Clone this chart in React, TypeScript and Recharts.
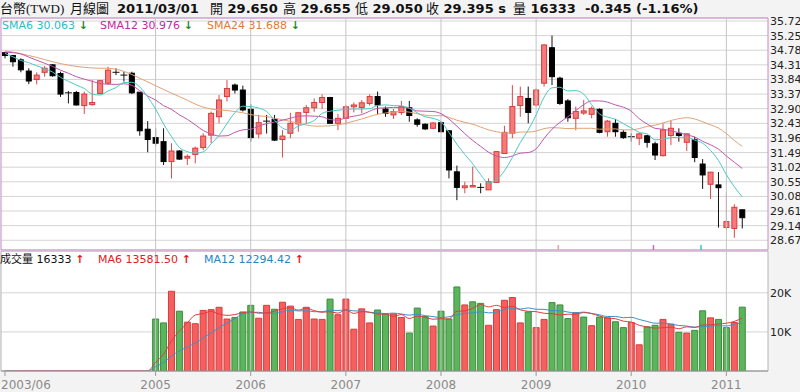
import { ComposedChart, Bar, Line, XAxis, YAxis, CartesianGrid, ReferenceLine, ReferenceArea, Cell } from 'recharts';

// month index 0 = 2003/06 ... 93 = 2011/03
const yearTicks = [0, 19, 31, 43, 55, 67, 79, 91];
const yearLabels = ['2003/06', '2005', '2006', '2007', '2008', '2009', '2010', '2011'];
const priceTicks = [28.67, 29.14, 29.61, 30.08, 30.55, 31.02, 31.49, 31.96, 32.43, 32.9, 33.37, 33.84, 34.31, 34.78, 35.25, 35.72];
const volumeTicks = [10000, 20000];

const open = [
  34.7, 34.61, 34.47, 34.11, 33.84, 34.07, 34.31, 34.03, 33.41, 33.42,
  33.0, 33.03, 33.39, 33.72, 34.07, 33.98, 34.04, 33.43, 32.24, 31.97,
  31.84, 31.2, 31.54, 31.31, 31.43, 31.65, 32.05, 32.64, 33.29, 33.66,
  33.5, 32.88, 32.09, 32.5, 32.56, 31.91, 32.11, 32.41, 32.78, 32.93,
  33.1, 33.26, 32.43, 32.59, 32.96, 32.94, 33.07, 33.29, 32.89, 32.7,
  32.78, 32.93, 32.54, 32.4, 32.27, 32.45, 32.19, 30.87, 30.36, 30.4,
  30.37, 30.29, 30.53, 31.46, 32.11, 33.0, 33.23, 33.02, 33.72, 34.86,
  33.88, 33.15, 32.59, 32.76, 32.72, 32.88, 32.16, 32.43, 32.14, 32.0,
  31.95, 32.03, 31.77, 31.39, 32.04, 32.11, 31.82, 31.9, 31.12, 30.47,
  30.45, 29.08, 29.05, 29.65,
];
const high = [
  34.73, 34.63, 34.52, 34.2, 34.07, 34.27, 34.33, 34.09, 33.47, 33.47,
  33.45, 33.82, 33.82, 34.25, 34.2, 34.09, 34.09, 33.43, 32.5, 32.27,
  32.27, 31.79, 31.57, 31.43, 31.68, 32.11, 32.81, 33.34, 33.82, 33.71,
  33.64, 33.04, 32.7, 32.7, 32.7, 32.21, 32.77, 32.78, 33.02, 33.23,
  33.36, 33.28, 32.73, 33.02, 33.1, 33.18, 33.36, 33.45, 32.97, 32.89,
  33.15, 33.15, 32.59, 32.43, 32.47, 32.48, 32.21, 31.07, 30.55, 31.04,
  30.5, 30.66, 31.54, 32.35, 33.66, 33.61, 33.61, 33.55, 34.97, 35.25,
  33.93, 33.21, 32.97, 33.18, 32.97, 32.91, 32.54, 32.57, 32.21, 32.11,
  32.11, 32.06, 31.84, 32.43, 32.51, 32.27, 32.11, 32.0, 31.28, 30.86,
  30.86, 30.21, 29.83, 29.655,
];
const low = [
  34.52, 34.25, 34.07, 33.69, 33.68, 33.93, 33.93, 33.28, 33.07, 33.0,
  32.73, 33.0, 33.37, 33.66, 33.98, 33.77, 33.37, 32.03, 31.5, 31.71,
  31.09, 30.66, 31.25, 31.09, 31.14, 31.57, 31.79, 32.43, 33.13, 33.39,
  32.81, 31.84, 31.95, 32.1, 31.86, 31.33, 31.95, 32.16, 32.43, 32.8,
  32.89, 32.43, 32.21, 32.38, 32.78, 32.75, 33.0, 32.72, 32.64, 32.57,
  32.7, 32.48, 32.32, 32.22, 32.24, 32.14, 30.66, 29.96, 30.18, 30.38,
  30.18, 30.29, 30.53, 31.46, 31.95, 32.64, 32.43, 32.97, 33.61, 33.66,
  33.02, 32.48, 32.21, 32.7, 32.59, 32.11, 32.0, 32.0, 31.93, 31.84,
  31.73, 31.65, 31.25, 31.36, 31.73, 31.84, 31.54, 31.18, 30.32, 30.0,
  29.08, 29.0, 28.75, 29.05,
];
const close = [
  34.61, 34.41, 34.15, 33.79, 33.98, 34.2, 33.96, 33.37, 33.4, 33.02,
  33.37, 33.1, 33.8, 34.14, 34.07, 33.98, 33.41, 32.19, 31.91, 31.79,
  31.2, 31.54, 31.28, 31.37, 31.63, 32.02, 32.75, 33.18, 33.55, 33.5,
  32.86, 31.97, 32.45, 32.5, 31.89, 32.02, 32.43, 32.77, 32.93, 33.1,
  33.26, 32.43, 32.59, 32.96, 33.02, 33.09, 33.29, 33.02, 32.75, 32.81,
  32.97, 32.68, 32.4, 32.25, 32.44, 32.16, 30.93, 30.37, 30.42, 30.43,
  30.36, 30.55, 31.52, 32.14, 32.97, 33.29, 32.78, 33.5, 34.95, 33.93,
  33.07, 32.61, 32.81, 32.83, 32.91, 32.14, 32.5, 32.16, 31.97, 31.98,
  32.09, 31.82, 31.41, 32.22, 32.27, 32.04, 32.09, 31.33, 30.77, 30.86,
  30.36, 29.27, 29.73, 29.395,
];

const sma6 = [
  34.68, 34.57, 34.45, 34.38, 34.28, 34.19, 34.08, 33.91, 33.78, 33.66,
  33.55, 33.37, 33.34, 33.47, 33.58, 33.74, 33.75, 33.6, 33.28, 32.89,
  32.41, 32.01, 31.65, 31.52, 31.47, 31.51, 31.77, 32.04, 32.42, 32.77,
  32.98, 32.97, 32.92, 32.81, 32.53, 32.28, 32.21, 32.34, 32.42, 32.52,
  32.75, 32.82, 32.85, 32.88, 32.89, 32.89, 32.9, 33.0, 33.02, 33.0,
  32.99, 32.92, 32.77, 32.64, 32.59, 32.48, 32.14, 31.76, 31.43, 31.13,
  30.78, 30.51, 30.61, 30.9, 31.33, 31.81, 32.21, 32.7, 33.27, 33.57,
  33.59, 33.47, 33.48, 33.37, 33.03, 32.73, 32.63, 32.56, 32.42, 32.28,
  32.14, 32.09, 31.9, 31.92, 31.97, 31.98, 31.98, 31.89, 31.79, 31.56,
  31.24, 30.78, 30.39, 30.063,
];
const sma12 = [
  34.72, 34.7, 34.66, 34.56, 34.46, 34.36, 34.26, 34.14, 34.04, 33.93,
  33.85, 33.78, 33.71, 33.69, 33.68, 33.7, 33.65, 33.48, 33.31, 33.18,
  33.0, 32.88, 32.7, 32.56, 32.38, 32.2, 32.09, 32.02, 32.03, 32.14,
  32.22, 32.24, 32.34, 32.42, 32.47, 32.53, 32.59, 32.66, 32.67, 32.66,
  32.64, 32.55, 32.53, 32.61, 32.66, 32.71, 32.82, 32.91, 32.93, 32.94,
  32.94, 32.91, 32.83, 32.82, 32.81, 32.74, 32.57, 32.34, 32.1, 31.88,
  31.69, 31.5, 31.38, 31.33, 31.38, 31.47, 31.49, 31.61, 31.94, 32.24,
  32.46, 32.64, 32.84, 33.03, 33.15, 33.15, 33.11, 33.02, 32.95, 32.82,
  32.58, 32.41, 32.27, 32.24, 32.19, 32.13, 32.06, 31.99, 31.85, 31.74,
  31.6, 31.38, 31.18, 30.976,
];
const sma24 = [
  34.76, 34.72, 34.67, 34.61, 34.55, 34.48, 34.41, 34.35, 34.3, 34.26,
  34.23, 34.21, 34.2, 34.2, 34.17, 34.1, 34.0, 33.88, 33.76, 33.64,
  33.52, 33.4, 33.29, 33.17, 33.05, 32.95, 32.89, 32.86, 32.84, 32.81,
  32.77, 32.71, 32.67, 32.65, 32.59, 32.55, 32.49, 32.43, 32.38, 32.34,
  32.34, 32.35, 32.38, 32.43, 32.5, 32.57, 32.65, 32.72, 32.76, 32.8,
  32.81, 32.79, 32.74, 32.69, 32.67, 32.68, 32.62, 32.53, 32.46, 32.4,
  32.31, 32.22, 32.16, 32.12, 32.11, 32.15, 32.15, 32.18, 32.26, 32.29,
  32.28, 32.26, 32.27, 32.27, 32.27, 32.24, 32.25, 32.25, 32.22, 32.22,
  32.26, 32.33, 32.37, 32.44, 32.52, 32.58, 32.61, 32.57, 32.48, 32.38,
  32.28, 32.1, 31.88, 31.688,
];

const volume = [
  null, null, null, null, null, null, null, null, null, null,
  null, null, null, null, null, null, null, null, null, 13300,
  12300, 20400, 15300, 12500, 12100, 15500, 15700, 16300, 13300, 13700,
  15100, 16800, 13500, 16800, 15800, 17600, 16600, 13200, 16300, 13300,
  13200, 18400, 14400, 18400, 10700, 15900, 12300, 15600, 14600, 14600,
  13700, 9700, 16100, 13900, 11500, 15300, 13300, 21500, 16900, 17700,
  17300, 11700, 15700, 18100, 18800, 12300, 15100, 11100, 13200, 17500,
  16900, 13400, 14900, 13800, 11600, 13800, 13600, 12600, 11100, 12400,
  6700, 11300, 11700, 13200, 12000, 9900, 9700, 10400, 15400, 13600,
  13200, 11100, 12400, 16333,
];
// 1 = closed higher (red bar), 0 = closed lower (green bar)
const volumeUp = [
  0, 0, 0, 0, 0, 0, 0, 0, 0, 0,
  0, 0, 0, 0, 0, 0, 0, 0, 0, 0,
  0, 1, 0, 1, 1, 1, 1, 1, 1, 0,
  0, 0, 1, 1, 0, 1, 1, 1, 1, 1,
  1, 0, 1, 1, 1, 1, 1, 0, 0, 1,
  1, 0, 0, 0, 1, 0, 0, 0, 1, 0,
  0, 1, 1, 1, 1, 1, 0, 1, 1, 0,
  0, 0, 1, 0, 1, 0, 1, 0, 0, 1,
  1, 0, 0, 1, 1, 0, 1, 0, 0, 1,
  0, 0, 1, 0,
];
const volumeMa6 = [
  0, 0, 0, 0, 0, 0, 0, 0, 0, 0,
  0, 0, 0, 0, 0, 0, 0, 0, 0, 2220,
  4270, 7670, 10220, 12300, 14320, 14680, 15250, 14570, 14230, 14430,
  14930, 15150, 14780, 14870, 15280, 15930, 16180, 15580, 16050, 15470,
  15030, 15170, 14800, 15670, 14730, 15170, 15020, 14550, 14580, 13950,
  14450, 13420, 14050, 13770, 13250, 13370, 13300, 15270, 15400, 16030,
  17000, 16400, 16800, 16230, 16550, 15650, 15280, 15180, 14770, 14670,
  14350, 14530, 14500, 14950, 14680, 14070, 13520, 13380, 12750, 12520,
  11700, 11280, 10970, 11070, 11220, 10800, 11300, 11150, 11770, 11830,
  12030, 12230, 12680, 13581.5,
];
const volumeMa12 = [
  0, 0, 0, 0, 0, 0, 0, 0, 0, 0,
  0, 0, 0, 0, 0, 0, 0, 0, 0, 1110,
  2130, 3830, 5110, 6150, 7160, 8450, 9760, 11120, 12230, 13370,
  14630, 14920, 15020, 14720, 14760, 15180, 15560, 15370, 15420, 15170,
  15160, 15550, 15490, 15630, 15390, 15320, 15030, 14860, 14690, 14810,
  14590, 14290, 14530, 14160, 13920, 13660, 13880, 14340, 14730, 14900,
  15130, 14880, 15050, 15750, 15980, 15840, 16140, 15790, 15780, 15450,
  15450, 15090, 14890, 15070, 14730, 14370, 13930, 13960, 13630, 13730,
  13190, 12680, 12240, 12230, 11980, 11660, 11500, 11220, 11370, 11450,
  11620, 11520, 12000, 12294.42,
];

// small event marks at the foot of the price panel
const markers = [
  { at: 69.8, color: '#e8a0a0' },
  { at: 81.8, color: '#c070c0' },
  { at: 87.8, color: '#40c0c8' },
];

const X_DOMAIN: [number, number] = [-0.5, 96.25];
const P_DOMAIN: [number, number] = [28.357, 35.816];
const V_DOMAIN: [number, number] = [0, 30700];
const FONT = '"DejaVu Sans", "Noto Sans CJK TC", sans-serif';

const priceData = open.map((o, i) => ({
  i, o, h: high[i], l: low[i], c: close[i],
  s6: sma6[i], s12: sma12[i], s24: sma24[i],
}));

const volumeData = volume.map((v, i) => ({
  i, v, up: volumeUp[i], m6: volumeMa6[i], m12: volumeMa12[i],
}));

const Candle = (props: any) => {
  const { x, y, width, height, payload } = props;
  if (!payload || height == null) return null;
  const { o, h, l, c } = payload;
  const ppu = height / (h - l);
  const cx = x + width / 2;
  const top = y + (h - Math.max(o, c)) * ppu;
  const bot = y + (h - Math.min(o, c)) * ppu;
  const doji = Math.abs(o - c) <= 0.02;
  const up = c > o && !doji;
  const wick = up ? '#d84a4a' : '#111';
  return (
    <g>
      <line x1={cx} x2={cx} y1={y} y2={y + height} stroke={wick} strokeWidth={1} />
      {doji ? (
        <line x1={x - 0.5} x2={x + width + 0.5} y1={top} y2={top} stroke="#111" strokeWidth={1} />
      ) : (
        <rect
          x={x + 0.5}
          y={top}
          width={width - 1}
          height={Math.max(bot - top, 1.5)}
          fill={up ? '#f77a7a' : '#000'}
          stroke={up ? '#d83c3c' : '#000'}
          strokeWidth={1}
        />
      )}
    </g>
  );
};

const PriceTick = (props: any) => {
  const { x, y, payload } = props;
  return (
    <text x={x} y={y + 4} fontSize={11} fill="#222" fontFamily={FONT} textAnchor="start">
      {payload.value.toFixed(2)}
    </text>
  );
};

const VolumeTick = (props: any) => {
  const { x, y, payload } = props;
  return (
    <text x={x} y={y + 4} fontSize={11} fill="#222" fontFamily={FONT} textAnchor="start">
      {`${payload.value / 1000}K`}
    </text>
  );
};

const YearTick = (props: any) => {
  const { x, y, payload } = props;
  const idx = yearTicks.indexOf(payload.value);
  const first = idx === 0;
  return (
    <text
      x={first ? 1 : x}
      y={y + 11}
      fontSize={12}
      fill="#8a8a8a"
      fontFamily={FONT}
      textAnchor={first ? 'start' : 'middle'}
    >
      {yearLabels[idx]}
    </text>
  );
};

const PriceChart = () => (
  <ComposedChart width={800} height={252} data={priceData} margin={{ top: 18, right: 0, bottom: 2, left: 1 }}>
    <CartesianGrid vertical={false} stroke="#d4d4d4" fill="#fff" />
    <XAxis dataKey="i" type="number" domain={X_DOMAIN} hide allowDataOverflow />
    <YAxis
      orientation="right"
      domain={P_DOMAIN}
      ticks={priceTicks}
      interval={0}
      width={32}
      axisLine={false}
      tickLine={false}
      tickSize={0}
      tickMargin={2}
      tick={<PriceTick />}
      allowDataOverflow
    />
    {yearTicks.slice(1).map((t) => (
      <ReferenceLine key={t} x={t} stroke="#c4c4c4" />
    ))}
    {markers.map((m) => (
      <ReferenceLine
        key={m.at}
        segment={[{ x: m.at, y: P_DOMAIN[0] }, { x: m.at, y: P_DOMAIN[0] + 0.16 }]}
        stroke={m.color}
        strokeWidth={1.5}
      />
    ))}
    <Bar dataKey={(d: any) => [d.l, d.h]} barSize={6} shape={<Candle />} isAnimationActive={false} />
    <Line dataKey="s24" type="monotone" stroke="#e2a274" strokeWidth={1} dot={false} isAnimationActive={false} />
    <Line dataKey="s12" type="monotone" stroke="#c055ac" strokeWidth={1} dot={false} isAnimationActive={false} />
    <Line dataKey="s6" type="monotone" stroke="#4cc8c8" strokeWidth={1} dot={false} isAnimationActive={false} />
    <ReferenceArea x1={X_DOMAIN[0]} x2={X_DOMAIN[1]} y1={P_DOMAIN[0]} y2={P_DOMAIN[1]} fill="none" stroke="#cc88cc" />
  </ComposedChart>
);

const VolumeChart = () => (
  <ComposedChart width={800} height={141} data={volumeData} margin={{ top: 0, right: 0, bottom: 0, left: 1 }}>
    <CartesianGrid vertical={false} stroke="#d4d4d4" fill="#fff" />
    <XAxis
      dataKey="i"
      type="number"
      domain={X_DOMAIN}
      ticks={yearTicks}
      interval={0}
      height={21}
      stroke="#9a9a9a"
      tickSize={5}
      tickMargin={2}
      tick={<YearTick />}
      allowDataOverflow
    />
    <YAxis
      orientation="right"
      domain={V_DOMAIN}
      ticks={volumeTicks}
      interval={0}
      width={32}
      axisLine={false}
      tickLine={false}
      tickSize={0}
      tickMargin={2}
      tick={<VolumeTick />}
      allowDataOverflow
    />
    {yearTicks.slice(1).map((t) => (
      <ReferenceLine key={t} x={t} stroke="#c4c4c4" />
    ))}
    <Bar dataKey="v" barSize={6} isAnimationActive={false}>
      {volumeData.map((d) => (
        <Cell key={d.i} fill={d.up ? '#f65f5f' : '#5cb55c'} stroke={d.up ? '#d93c3c' : '#3d8c3d'} />
      ))}
    </Bar>
    <Line dataKey="m12" type="monotone" stroke="#3a92c4" strokeWidth={1} dot={false} isAnimationActive={false} />
    <Line dataKey="m6" type="monotone" stroke="#e03c3c" strokeWidth={1} dot={false} isAnimationActive={false} />
    <ReferenceArea x1={X_DOMAIN[0]} x2={X_DOMAIN[1]} y1={V_DOMAIN[0]} y2={V_DOMAIN[1]} fill="none" stroke="#b4b4b4" />
  </ComposedChart>
);

const abs = (left: number, top: number, extra: any = {}) => ({
  position: 'absolute' as const,
  left,
  top,
  whiteSpace: 'nowrap' as const,
  ...extra,
});

const titleStyle = { fontSize: 13, fontWeight: 'bold', lineHeight: '16px', color: '#111' };
const cjk = { fontFamily: '"Liberation Serif", "Noto Sans CJK TC", serif', fontWeight: 'normal', fontSize: 13 };

export default function App() {
  return (
    <div style={{ position: 'absolute', left: 0, top: 0, width: 800, height: 392, overflow: 'hidden', background: '#f3f3f3', fontFamily: FONT }}>
      <div style={abs(0, 0)}>
        <PriceChart />
      </div>
      <div style={abs(0, 251)}>
        <VolumeChart />
      </div>

      <span style={abs(0, 1, { ...titleStyle, ...cjk })}>台幣(TWD)</span>
      <span style={abs(70, 1, { ...titleStyle, ...cjk })}>月線圖</span>
      <span style={abs(117, 1, titleStyle)}>2011/03/01</span>
      <span style={abs(210, 1, titleStyle)}><span style={cjk}>開</span> 29.650</span>
      <span style={abs(283, 1, titleStyle)}><span style={cjk}>高</span> 29.655</span>
      <span style={abs(355, 1, titleStyle)}><span style={cjk}>低</span> 29.050</span>
      <span style={abs(426, 1, titleStyle)}><span style={cjk}>收</span> 29.395 s</span>
      <span style={abs(513, 1, titleStyle)}><span style={cjk}>量</span> 16333</span>
      <span style={abs(585, 1, titleStyle)}>-0.345 (-1.16%)</span>

      <div style={abs(2, 19, { fontSize: 11, lineHeight: '14px' })}>
        <span style={{ color: '#2cbcc4' }}>SMA6 30.063</span>
        <b style={{ color: '#1f8a1f' }}> ↓</b>
      </div>
      <div style={abs(100, 19, { fontSize: 11, lineHeight: '14px' })}>
        <span style={{ color: '#c4289c' }}>SMA12 30.976</span>
        <b style={{ color: '#1f8a1f' }}> ↓</b>
      </div>
      <div style={abs(207, 19, { fontSize: 11, lineHeight: '14px' })}>
        <span style={{ color: '#e07a3c' }}>SMA24 31.688</span>
        <b style={{ color: '#1f8a1f' }}> ↓</b>
      </div>

      <div style={abs(0, 253, { fontSize: 11, lineHeight: '14px' })}>
        <span style={{ color: '#111' }}>成交量 16333</span>
        <b style={{ color: '#e01a1a' }}> ↑</b>
      </div>
      <div style={abs(98, 253, { fontSize: 11, lineHeight: '14px' })}>
        <span style={{ color: '#e02020' }}>MA6 13581.50</span>
        <b style={{ color: '#e01a1a' }}> ↑</b>
      </div>
      <div style={abs(204, 253, { fontSize: 11, lineHeight: '14px' })}>
        <span style={{ color: '#2a84c0' }}>MA12 12294.42</span>
        <b style={{ color: '#e01a1a' }}> ↑</b>
      </div>
    </div>
  );
}
